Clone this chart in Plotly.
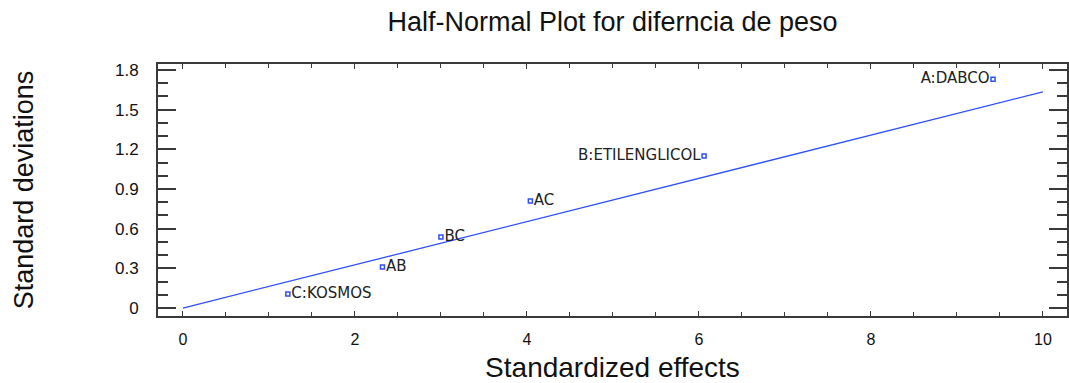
import plotly.graph_objects as go

# Data
effect_labels = ["C:KOSMOS", "AB", "BC", "AC", "B:ETILENGLICOL", "A:DABCO"]
std_effects = [1.22, 2.32, 3.00, 4.04, 6.06, 9.42]
std_deviations = [0.106, 0.31, 0.537, 0.81, 1.15, 1.73]
label_sides = ["middle right", "middle right", "middle right", "middle right", "middle left", "middle left"]

fit_x = [0, 10]
fit_y = [0, 1.634]

blue = "#3050F8"
frame = "#3a3a3a"

fig = go.Figure()
fig.add_trace(go.Scatter(
    x=fit_x, y=fit_y, mode="lines",
    line=dict(color=blue, width=1.3), hoverinfo="skip", showlegend=False,
))
fig.add_trace(go.Scatter(
    x=std_effects, y=std_deviations, mode="markers+text",
    text=effect_labels, textposition=label_sides,
    textfont=dict(family="DejaVu Sans", size=15, color="#222222"),
    marker=dict(symbol="square-open", size=4, color=blue, line=dict(width=1.5, color=blue)),
    showlegend=False,
))

fig.update_layout(
    width=1069, height=383,
    margin=dict(l=158, r=0, t=64, b=67),
    paper_bgcolor="white", plot_bgcolor="white",
    font=dict(family="Liberation Sans", color="#111111"),
    title=dict(
        text="Half-Normal Plot for diferncia de peso",
        x=0.5, xref="paper", xanchor="center",
        y=1 - 22 / 383, yref="container", yanchor="middle",
        font=dict(family="Liberation Sans", size=27, color="#111111"),
    ),
)

fig.update_xaxes(
    range=[-0.29, 10.28],
    tickmode="linear", tick0=0, dtick=2,
    ticks="inside", ticklen=5, tickwidth=1.3, tickcolor=frame,
    minor=dict(dtick=0.5, ticks="inside", ticklen=4, tickwidth=1.3, tickcolor=frame),
    showline=True, linecolor=frame, linewidth=2, mirror="ticks",
    showgrid=False, zeroline=False,
    tickfont=dict(family="Liberation Sans", size=16, color="#111111"),
    ticklabelstandoff=8,
    title=dict(text="Standardized effects", standoff=10,
               font=dict(family="Liberation Sans", size=28, color="#111111")),
)
fig.update_yaxes(
    range=[-0.06, 1.845],
    tickmode="linear", tick0=0, dtick=0.3,
    ticks="inside", ticklen=18, tickwidth=1.5, tickcolor=frame,
    minor=dict(dtick=0.1, ticks="inside", ticklen=10, tickwidth=1.5, tickcolor=frame),
    showline=True, linecolor=frame, linewidth=2, mirror="ticks",
    showgrid=False, zeroline=False,
    tickfont=dict(family="Liberation Sans", size=17, color="#111111"),
    ticklabelstandoff=14,
    title=dict(text="Standard deviations", standoff=74,
               font=dict(family="Liberation Sans", size=27, color="#111111")),
)

fig.write_html("out.html")
